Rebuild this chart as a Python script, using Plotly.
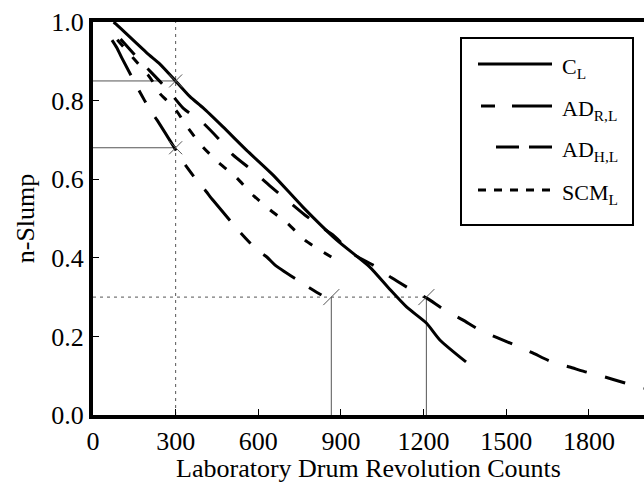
import plotly.graph_objects as go

# ---------------- data ----------------
cl_x = [75, 83, 196, 243, 300, 352, 399, 472, 557, 653, 762, 885, 1004, 1077, 1138, 1210, 1259, 1354]
cl_y = [1.0, 0.995, 0.921, 0.893, 0.85, 0.81, 0.782, 0.733, 0.674, 0.611, 0.529, 0.445, 0.377, 0.32, 0.275, 0.234, 0.191, 0.135]

adr_x = [69, 87, 105, 170, 207, 232, 300, 327, 381, 406, 435, 533, 595, 631, 660, 740, 780, 849, 885]
adr_y = [0.954, 0.934, 0.908, 0.822, 0.776, 0.751, 0.675, 0.644, 0.593, 0.573, 0.547, 0.466, 0.420, 0.402, 0.382, 0.344, 0.326, 0.298, 0.293]

adh_x = [100, 178, 214, 272, 327, 395, 453, 508, 577, 642, 704, 769, 834, 871, 950, 1023, 1084, 1157, 1210, 1277, 1342, 1404, 1469, 1538, 1596, 1665, 1730, 1792, 1857, 1919, 2000]
adh_y = [0.957, 0.896, 0.870, 0.827, 0.781, 0.746, 0.705, 0.662, 0.623, 0.583, 0.547, 0.509, 0.476, 0.458, 0.407, 0.379, 0.349, 0.318, 0.298, 0.267, 0.242, 0.216, 0.196, 0.176, 0.158, 0.135, 0.122, 0.109, 0.097, 0.084, 0.068]

scm_x = [88, 150, 200, 218, 243, 268, 305, 345, 399, 453, 522, 580, 642, 704, 769, 834, 865]
scm_y = [0.955, 0.905, 0.865, 0.847, 0.818, 0.800, 0.772, 0.730, 0.682, 0.644, 0.603, 0.560, 0.522, 0.489, 0.445, 0.415, 0.402]

# reference readings
ref_count_x = 300
ref_slump_at_300 = [0.85, 0.68]
ref_slump_y = 0.3
ref_count_at_03 = [865, 1210]

series_names = ["C<sub>L</sub>", "AD<sub>R,L</sub>", "AD<sub>H,L</sub>", "SCM<sub>L</sub>"]
x_ticks = [0, 300, 600, 900, 1200, 1500, 1800]
y_ticks = [0.0, 0.2, 0.4, 0.6, 0.8, 1.0]

# ---------------- styling ----------------
FONT = "Liberation Serif, 'Times New Roman', Times, 'DejaVu Serif', serif"
GRAY = "#555555"
W, H = 644, 483
ML, MR, MT, MB = 93, 0, 22, 68
PW = W - ML - MR
PH = H - MT - MB


def px(xp):
    return (xp - ML) / PW


def py(yp):
    return (H - MB - yp) / PH


fig = go.Figure()

# reference guide lines
fig.add_trace(go.Scatter(x=[ref_count_x, ref_count_x], y=[0, 1.0], mode="lines",
                         line=dict(color=GRAY, width=1, dash="3px,4px"), hoverinfo="skip"))
fig.add_trace(go.Scatter(x=[0, ref_count_at_03[1]], y=[ref_slump_y, ref_slump_y], mode="lines",
                         line=dict(color=GRAY, width=1, dash="3px,4px"), hoverinfo="skip"))
for v in ref_slump_at_300:
    fig.add_trace(go.Scatter(x=[0, ref_count_x], y=[v, v], mode="lines",
                             line=dict(color=GRAY, width=1), hoverinfo="skip"))
for c in ref_count_at_03:
    fig.add_trace(go.Scatter(x=[c, c], y=[0, ref_slump_y], mode="lines",
                             line=dict(color=GRAY, width=1), hoverinfo="skip"))

# curves
curve_specs = [
    (cl_x, cl_y, "solid"),
    (adr_x, adr_y, "40px,17px,14px,17px"),
    (adh_x, adh_y, "21px,19px"),
    (scm_x, scm_y, "9px,14px"),
]
for (xs, ys, d), name in zip(curve_specs, series_names):
    fig.add_trace(go.Scatter(x=xs, y=ys, mode="lines", name=name,
                             line=dict(color="black", width=3, dash=d, shape="spline", smoothing=0.6)))

# markers at reading points
fig.add_trace(go.Scatter(x=[ref_count_x] * len(ref_slump_at_300), y=ref_slump_at_300, mode="markers",
                         marker=dict(symbol="x-thin", size=13, line=dict(color=GRAY, width=1)),
                         hoverinfo="skip"))
fig.add_trace(go.Scatter(x=ref_count_at_03, y=[ref_slump_y] * len(ref_count_at_03), mode="markers",
                         marker=dict(symbol="line-ne", size=16, line=dict(color=GRAY, width=1)),
                         hoverinfo="skip"))

# custom legend
shapes = [dict(type="rect", xref="paper", yref="paper", x0=px(461), x1=px(633), y0=py(225), y1=py(38),
               line=dict(color="black", width=2), fillcolor="white", layer="above")]
leg_rows = [64, 106, 147, 190]
leg_lines = [
    (478, 552, "solid"),
    (552, 481, "40px,17px,14px,17px"),
    (552, 495, "23px,10px"),
    (478, 552, "8px,8px"),
]
annotations = []
for (x0, x1, d), yrow, name in zip(leg_lines, leg_rows, series_names):
    shapes.append(dict(type="line", xref="paper", yref="paper", x0=px(x0), x1=px(x1), y0=py(yrow), y1=py(yrow),
                       line=dict(color="black", width=3, dash=d), layer="above"))
    annotations.append(dict(xref="paper", yref="paper", x=px(560), y=py(yrow + 4), xanchor="left", yanchor="middle",
                            text=name, showarrow=False, font=dict(family=FONT, size=22, color="black")))

fig.update_layout(
    width=W, height=H,
    margin=dict(l=ML, r=MR, t=MT, b=MB),
    plot_bgcolor="white", paper_bgcolor="white",
    showlegend=False,
    font=dict(family=FONT, size=25, color="black"),
    shapes=shapes,
    annotations=annotations,
)
fig.update_xaxes(range=[0, 2000], tickvals=x_ticks, ticktext=[str(t) for t in x_ticks],
                 ticks="inside", ticklen=6, tickwidth=1, tickcolor="black",
                 showline=True, linewidth=4, linecolor="black", mirror=True,
                 showgrid=False, zeroline=False,
                 tickfont=dict(family=FONT, size=26),
                 title=dict(text="Laboratory Drum Revolution Counts", font=dict(family=FONT, size=26), standoff=4))
fig.update_yaxes(range=[0, 1.0], tickvals=y_ticks, ticktext=["%.1f" % t for t in y_ticks],
                 ticks="inside", ticklen=6, tickwidth=1, tickcolor="black",
                 showline=True, linewidth=4, linecolor="black", mirror=False,
                 showgrid=False, zeroline=False,
                 tickfont=dict(family=FONT, size=26),
                 title=dict(text="n-Slump", font=dict(family=FONT, size=26), standoff=10))

fig.write_html("out.html")
